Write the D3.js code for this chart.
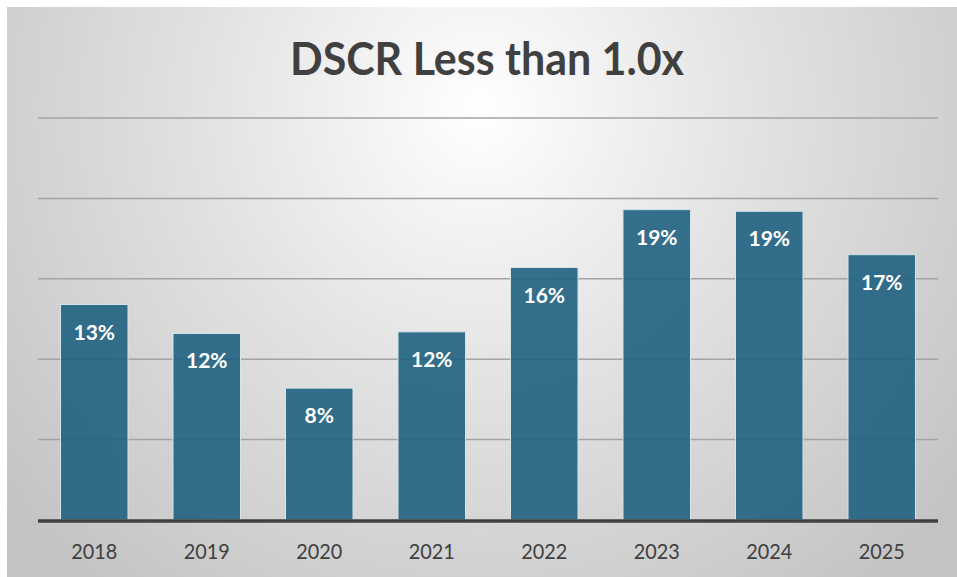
<!DOCTYPE html>
<html>
<head>
<meta charset="utf-8">
<script src="https://cdn.jsdelivr.net/npm/d3@7"></script>
<style>
  html, body { margin: 0; padding: 0; background: #ffffff; }
  svg { display: block; }
</style>
</head>
<body>
<svg id="chart" width="957" height="577"></svg>
<script>
// Share of loans with a debt service coverage ratio below 1.0x, by year
const years = ["2018", "2019", "2020", "2021", "2022", "2023", "2024", "2025"];
const shares = [0.134, 0.116, 0.082, 0.117, 0.157, 0.193, 0.192, 0.165];
const gridTicks = [0.05, 0.10, 0.15, 0.20, 0.25];
const title = "DSCR Less than 1.0x";

const W = 957, H = 577;
const svg = d3.select("#chart");

// card background with soft radial shading
const defs = svg.append("defs");
const grad = defs.append("radialGradient")
  .attr("id", "bg")
  .attr("gradientUnits", "userSpaceOnUse")
  .attr("cx", 480).attr("cy", 110).attr("r", 620)
  .attr("fx", 480).attr("fy", 110);
grad.append("stop").attr("offset", "0%").attr("stop-color", "#ffffff");
grad.append("stop").attr("offset", "45%").attr("stop-color", "#e2e2e2");
grad.append("stop").attr("offset", "100%").attr("stop-color", "#c3c3c3");

svg.append("rect")
  .attr("x", 7).attr("y", 7)
  .attr("width", W - 7).attr("height", H - 7)
  .attr("fill", "url(#bg)");

const x = d3.scaleBand()
  .domain(years)
  .range([38, 938])
  .paddingInner(0.4)
  .paddingOuter(0.2);

const y = d3.scaleLinear()
  .domain([0, 0.25])
  .range([520, 118]);

// horizontal gridlines
svg.append("g")
  .selectAll("line")
  .data(gridTicks)
  .join("line")
  .attr("x1", 38).attr("x2", 938)
  .attr("y1", d => y(d)).attr("y2", d => y(d))
  .attr("stroke", "#a3a3a3")
  .attr("stroke-width", 1.5);

// bars
svg.append("g")
  .selectAll("rect")
  .data(years)
  .join("rect")
  .attr("x", d => x(d))
  .attr("width", x.bandwidth())
  .attr("y", (d, i) => y(shares[i]))
  .attr("height", (d, i) => y(0) - y(shares[i]))
  .attr("fill", "#1f617f")
  .attr("fill-opacity", 0.9)
  .attr("stroke", "#d6e4ea")
  .attr("stroke-width", 1);

// baseline
svg.append("line")
  .attr("x1", 38).attr("x2", 938)
  .attr("y1", y(0) + 1).attr("y2", y(0) + 1)
  .attr("stroke", "#404040")
  .attr("stroke-width", 3.5);

// value labels inside bars
const fmt = d3.format(".0%");
svg.append("g")
  .selectAll("text")
  .data(years)
  .join("text")
  .attr("x", d => x(d) + x.bandwidth() / 2)
  .attr("y", (d, i) => y(shares[i]) + 35)
  .attr("text-anchor", "middle")
  .attr("font-family", "Lato, 'Open Sans', sans-serif")
  .attr("font-weight", "bold")
  .attr("font-size", 21)
  .attr("fill", "#ffffff")
  .text((d, i) => fmt(shares[i]));

// category axis labels
const xAxis = d3.axisBottom(x).tickSize(0).tickPadding(0);
const gx = svg.append("g")
  .attr("transform", `translate(0, ${y(0)})`)
  .call(xAxis);
gx.select(".domain").remove();
gx.selectAll("text")
  .attr("dy", null)
  .attr("y", 39)
  .attr("font-family", "Lato, 'Open Sans', sans-serif")
  .attr("font-size", 21)
  .attr("fill", "#404040")
  .attr("textLength", 46)
  .attr("lengthAdjust", "spacingAndGlyphs");

// title
svg.append("text")
  .attr("x", 487)
  .attr("y", 75)
  .attr("text-anchor", "middle")
  .attr("font-family", "Lato, 'Open Sans', sans-serif")
  .attr("font-weight", "bold")
  .attr("font-size", 46)
  .attr("fill", "#404040")
  .attr("textLength", 394)
  .attr("lengthAdjust", "spacingAndGlyphs")
  .text(title);
</script>
</body>
</html>
